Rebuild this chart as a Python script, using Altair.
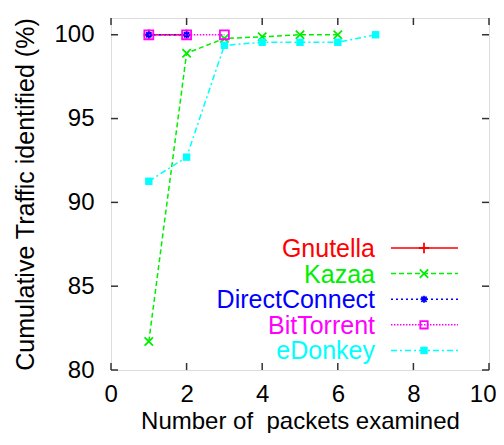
import altair as alt
import pandas as pd

# ---- data ----
series_names = ["Gnutella", "Kazaa", "DirectConnect", "BitTorrent", "eDonkey"]
gnutella_x = [1, 2]
gnutella_y = [100.0, 100.0]
kazaa_x = [1, 2, 3, 4, 5, 6]
kazaa_y = [81.7, 98.9, 99.78, 99.88, 100.0, 100.0]
directconnect_x = [1, 2]
directconnect_y = [100.0, 100.0]
bittorrent_x = [1, 2, 3]
bittorrent_y = [100.0, 100.0, 100.0]
edonkey_x = [1, 2, 3, 4, 5, 6, 7]
edonkey_y = [91.26, 92.7, 99.37, 99.55, 99.55, 99.55, 100.0]
x_ticks = [0, 2, 4, 6, 8, 10]
y_ticks = [80, 85, 90, 95, 100]

W, H = 378, 352
FONT = "Liberation Sans"

colors = ["#ff0000", "#00ee00", "#0000ff", "#ff00ff", "#00ffff"]
dashes = [[1, 0], [5, 3], [2, 3], [1.5, 1.5], [6, 3, 2, 3]]
PLUS = "M-1,0L1,0M0,-1L0,1"
XS = "M-1,-1L1,1M-1,1L1,-1"
STAR = "M-1,0L1,0M0,-1L0,1M-0.75,-0.75L0.75,0.75M-0.75,0.75L0.75,-0.75"
shapes = [PLUS, XS, STAR, "square", "square"]
filled = [False, False, False, False, True]
sizes = [110, 70, 50, 80, 55]

xs = [gnutella_x, kazaa_x, directconnect_x, bittorrent_x, edonkey_x]
ys = [gnutella_y, kazaa_y, directconnect_y, bittorrent_y, edonkey_y]

rows = []
for name, xv, yv in zip(series_names, xs, ys):
    for a, b in zip(xv, yv):
        rows.append({"series": name, "x": a, "y": b})
df = pd.DataFrame(rows)

xscale = alt.Scale(domain=[0, 10], nice=False, zero=False)
yscale = alt.Scale(domain=[80, 101], nice=False, zero=False)

xaxis = alt.Axis(values=x_ticks, ticks=False, tickSize=0, domain=False, grid=False,
                 labelFlush=True, labelFlushOffset=7, labelOverlap=False, labelBound=False,
                 labelFont=FONT, labelFontSize=24, labelColor="black",
                 labelBaseline="alphabetic", labelPadding=31,
                 title="Number of\u00a0 packets examined", titleFont=FONT, titleFontSize=24,
                 titleFontWeight="normal", titleColor="black",
                 titleBaseline="alphabetic", titleY=58)
yaxis = alt.Axis(values=y_ticks, ticks=False, tickSize=0, domain=False, grid=False,
                 labelFlush=False, labelOverlap=False,
                 labelFont=FONT, labelFontSize=24, labelColor="black", labelPadding=17,
                 title="Cumulative Traffic identified (%)", titleFont=FONT, titleFontSize=25,
                 titleFontWeight="normal", titleColor="black",
                 titleBaseline="alphabetic", titleX=-78, titleY=H / 2, titleAngle=270)

base = alt.Chart(df)
layers = []
for i, name in enumerate(series_names):
    sub = base.transform_filter(alt.datum.series == name)
    line = sub.mark_line(color=colors[i], strokeWidth=1.5, strokeDash=dashes[i]).encode(
        x=alt.X("x:Q", scale=xscale, axis=xaxis),
        y=alt.Y("y:Q", scale=yscale, axis=yaxis),
    )
    pt = sub.mark_point(shape=shapes[i], size=sizes[i], filled=filled[i],
                        color=colors[i], strokeWidth=1.8, opacity=1).encode(
        x=alt.X("x:Q", scale=xscale),
        y=alt.Y("y:Q", scale=yscale),
    )
    layers += [line, pt]

# inward tick marks on all four sides
tick_len = 7
ytk = pd.DataFrame({"v": y_ticks})
xtk = pd.DataFrame({"v": x_ticks})
tick_style = dict(color="#333333", strokeWidth=1.5)
layers.append(alt.Chart(ytk).mark_rule(**tick_style).encode(
    y=alt.Y("v:Q", scale=yscale), x=alt.value(0), x2=alt.value(tick_len)))
layers.append(alt.Chart(ytk).mark_rule(**tick_style).encode(
    y=alt.Y("v:Q", scale=yscale), x=alt.value(W - tick_len), x2=alt.value(W)))
layers.append(alt.Chart(xtk).mark_rule(**tick_style).encode(
    x=alt.X("v:Q", scale=xscale), y=alt.value(H - tick_len), y2=alt.value(H)))
layers.append(alt.Chart(xtk).mark_rule(**tick_style).encode(
    x=alt.X("v:Q", scale=xscale), y=alt.value(0), y2=alt.value(tick_len)))

# in-plot legend (gnuplot style: label then line sample with marker)
leg_sizes = [110, 70, 50, 55, 55]
leg = pd.DataFrame({"series": series_names, "i": list(range(len(series_names)))})
leg_base = alt.Chart(leg).transform_calculate(py="230 + datum.i * 25.6")
for i, name in enumerate(series_names):
    lb = leg_base.transform_filter(alt.datum.series == name)
    layers.append(lb.mark_text(align="right", baseline="middle", font=FONT, fontSize=25,
                               color=colors[i], dy=1).encode(
        x=alt.value(264), y=alt.Y("py:Q", scale=None), text="series:N"))
    layers.append(lb.mark_rule(color=colors[i], strokeWidth=1.5, strokeDash=dashes[i]).encode(
        x=alt.value(280), x2=alt.value(347), y=alt.Y("py:Q", scale=None)))
    layers.append(lb.mark_point(shape=shapes[i], size=leg_sizes[i], filled=filled[i],
                                color=colors[i], strokeWidth=1.8, opacity=1).encode(
        x=alt.value(313), y=alt.Y("py:Q", scale=None)))

chart = alt.layer(*layers).properties(
    width=W, height=H,
    autosize=alt.AutoSizeParams(type="none"),
    padding={"left": 103, "top": 10, "right": 7, "bottom": 63},
).configure_view(stroke="#222222", strokeWidth=1.5).configure(background="white")

chart.save("out.html", embed_options={"renderer": "svg", "actions": False})
